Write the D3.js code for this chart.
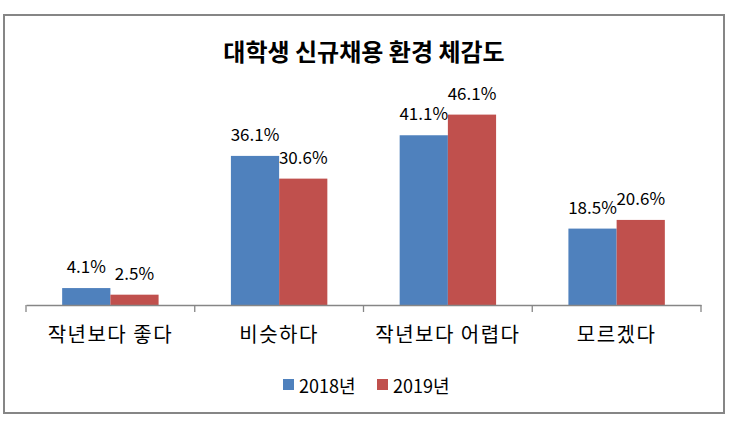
<!DOCTYPE html>
<html>
<head>
<meta charset="utf-8">
<script src="https://cdn.jsdelivr.net/npm/d3@7"></script>
<style>
  body { margin: 0; background: #fff; }
  text { font-family: "Noto Sans CJK KR", "Noto Sans", sans-serif; fill: #000; }
</style>
</head>
<body>
<script>
var categories = ["작년보다 좋다", "비슷하다", "작년보다 어렵다", "모르겠다"];
var seriesNames = ["2018년", "2019년"];
var values2018 = [4.1, 36.1, 41.1, 18.5];
var values2019 = [2.5, 30.6, 46.1, 20.6];
var colors = ["#4F81BD", "#C0504D"];

var width = 732, height = 424;

var svg = d3.select("body").append("svg")
  .attr("width", width)
  .attr("height", height);

// chart frame
svg.append("rect")
  .attr("x", 4).attr("y", 15)
  .attr("width", 720).attr("height", 398)
  .attr("fill", "#fff")
  .attr("stroke", "#868686")
  .attr("stroke-width", 2);

svg.append("text")
  .attr("x", 364).attr("y", 61)
  .attr("text-anchor", "middle")
  .style("font-size", "24px")
  .style("font-weight", "bold")
  .text("대학생 신규채용 환경 체감도");

var x0 = d3.scaleBand().domain(categories).range([26, 701]).paddingInner(0).paddingOuter(0);
var y = d3.scaleLinear().domain([0, 50]).range([305, 98.5]);
var groupPad = x0.bandwidth() * 0.75 / 3.5;
var x1 = d3.scaleBand().domain(seriesNames)
  .range([groupPad, x0.bandwidth() - groupPad]);

var rows = categories.map(function(c, i) {
  return { cat: c, vals: [values2018[i], values2019[i]] };
});

var groups = svg.selectAll("g.cat").data(rows).enter().append("g")
  .attr("class", "cat")
  .attr("transform", function(d) { return "translate(" + x0(d.cat) + ",0)"; });

groups.selectAll("rect").data(function(d) {
    return d.vals.map(function(v, j) { return { name: seriesNames[j], v: v, j: j }; });
  }).enter().append("rect")
  .attr("x", function(d) { return x1(d.name); })
  .attr("width", x1.bandwidth())
  .attr("y", function(d) { return y(d.v); })
  .attr("height", function(d) { return y(0) - y(d.v); })
  .attr("fill", function(d) { return colors[d.j]; });

groups.selectAll("text.lbl").data(function(d) {
    return d.vals.map(function(v, j) { return { name: seriesNames[j], v: v }; });
  }).enter().append("text")
  .attr("class", "lbl")
  .attr("x", function(d) { return x1(d.name) + x1.bandwidth() / 2; })
  .attr("y", function(d) { return y(d.v) - 15; })
  .attr("text-anchor", "middle")
  .style("font-size", "17px")
  .text(function(d) { return d.v.toFixed(1) + "%"; });

// category axis
var xAxis = d3.axisBottom(x0).tickSize(0).tickFormat("");
var ax = svg.append("g").attr("transform", "translate(0,305)").call(xAxis);
ax.select(".domain").attr("stroke", "#868686").attr("stroke-width", 1.3);
var edges = d3.range(categories.length + 1).map(function(i) { return 26 + i * x0.bandwidth(); });
svg.selectAll("line.tk").data(edges).enter().append("line")
  .attr("x1", function(d) { return d; }).attr("x2", function(d) { return d; })
  .attr("y1", 305).attr("y2", 312)
  .attr("stroke", "#868686").attr("stroke-width", 1.3);

svg.selectAll("text.cat").data(categories).enter().append("text")
  .attr("class", "cat")
  .attr("x", function(d) { return x0(d) + x0.bandwidth() / 2; })
  .attr("y", 342)
  .attr("text-anchor", "middle")
  .style("font-size", "20px")
  .style("letter-spacing", "1.5px")
  .text(function(d) { return d; });

// legend
var legX = [283, 377];
var leg = svg.selectAll("g.leg").data(seriesNames).enter().append("g")
  .attr("class", "leg")
  .attr("transform", function(d, i) { return "translate(" + legX[i] + ",379)"; });
leg.append("rect").attr("width", 11).attr("height", 11)
  .attr("fill", function(d, i) { return colors[i]; });
leg.append("text").attr("x", 16).attr("y", 14)
  .style("font-size", "18px")
  .text(function(d) { return d; });
</script>
</body>
</html>
